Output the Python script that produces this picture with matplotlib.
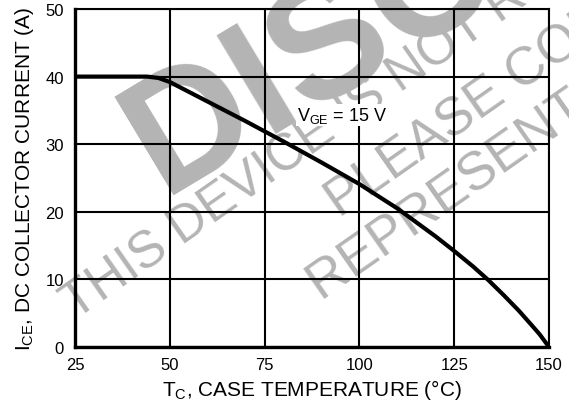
import matplotlib
matplotlib.use("Agg")
import matplotlib.pyplot as plt

plt.rcParams['font.family'] = ['Liberation Sans', 'DejaVu Sans']
plt.rcParams['mathtext.fontset'] = 'custom'
plt.rcParams['mathtext.rm'] = 'Liberation Sans'
plt.rcParams['mathtext.it'] = 'Liberation Sans:italic'

# Data
case_temp = [25, 44, 47, 50, 60, 70, 80, 90, 100, 110, 120, 125, 130, 134, 138, 142, 145, 147.5, 150]
collector_current = [40, 40, 39.8, 39.2, 36.3, 33.4, 30.4, 27.3, 24.1, 20.5, 16.4, 14.2, 11.9, 9.9, 7.7, 5.4, 3.5, 1.9, 0]
x_ticks = [25, 50, 75, 100, 125, 150]
y_ticks = [0, 10, 20, 30, 40, 50]

W, H = 569, 402
fig = plt.figure(figsize=(W / 100, H / 100), dpi=100)
ax = fig.add_axes([75 / W, 1 - 348 / H, (549 - 75) / W, (348 - 10) / H])
ax.patch.set_alpha(0)

# watermark (behind everything)
wm_color = '#b4b4b4'
def px(x, y):
    return x / W, 1 - y / H
fig.text(*px(163, 195.5), 'DISCONTINUED', fontsize=120, fontweight='bold', color=wm_color,
         rotation=31, rotation_mode='anchor', ha='left', va='baseline', zorder=-5)
fig.text(*px(75.5, 320.5), 'THIS DEVICE IS NOT RECOMMENDED FOR NEW DESIGN.', fontsize=36.7,
         color=wm_color, rotation=35, rotation_mode='anchor', ha='left', va='baseline', zorder=-5)
fig.text(*px(340, 219), 'PLEASE CONTACT YOUR ON SEMICONDUCTOR', fontsize=38,
         color=wm_color, rotation=35, rotation_mode='anchor', ha='left', va='baseline', zorder=-5)
fig.text(*px(322, 302), 'REPRESENTATIVE FOR INFORMATION', fontsize=38.5,
         color=wm_color, rotation=35, rotation_mode='anchor', ha='left', va='baseline', zorder=-5)

ax.plot(case_temp, collector_current, color='black', lw=3.0, solid_capstyle='butt', zorder=4)

ax.set_xlim(25, 150)
ax.set_ylim(0, 50)
ax.set_xticks(x_ticks)
ax.set_yticks(y_ticks)
ax.grid(True, color='black', lw=1.5)
ax.set_axisbelow(True)
ax.tick_params(length=0, labelsize=12, colors='black')
ax.tick_params(axis='y', pad=8)
ax.tick_params(axis='x', pad=7)
for s in ['top', 'right']:
    ax.spines[s].set_linewidth(1.5)
for s in ['left', 'bottom']:
    ax.spines[s].set_linewidth(2.4)

ax.text(83.6, 34.3, r'V$_{\rm GE}$ = 15 V', fontsize=13, va='center', ha='left', zorder=5,
        bbox=dict(facecolor='white', edgecolor='none', pad=0.5))

ax.set_xlabel(r'T$_{\rm C}$, CASE TEMPERATURE (°C)', fontsize=15, labelpad=4)
ax.set_ylabel(r'I$_{\rm CE}$, DC COLLECTOR CURRENT (A)', fontsize=15, labelpad=7)

fig.savefig('out.png', dpi=100)
